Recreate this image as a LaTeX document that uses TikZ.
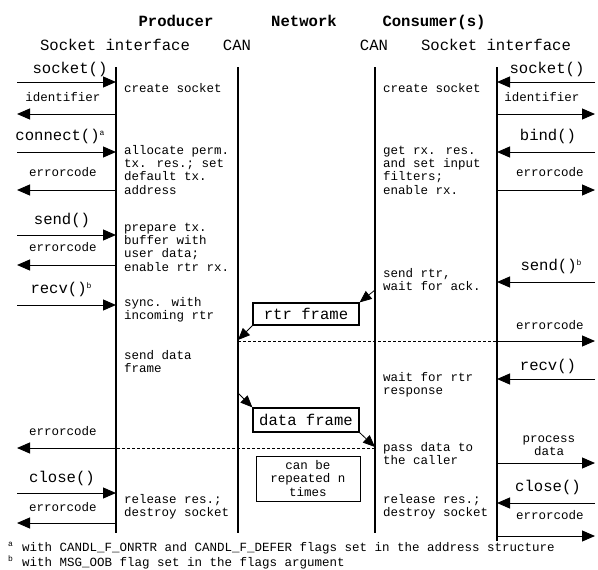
\documentclass[tikz,border=0pt]{standalone}
\usepackage{fontspec}
\setmainfont{Liberation Mono}
\usetikzlibrary{arrows.meta}
\tikzset{
  life/.style={line width=1.8pt},
  msg/.style={line width=1pt, -{Triangle[length=13pt,width=11pt]}},
  fr/.style={line width=0.8pt, -{Triangle[length=12pt,width=10pt]}},
  dsh/.style={line width=0.8pt, dashed, dash pattern=on 3pt off 2pt},
  big/.style={font=\fontsize{15.6}{18}\selectfont, inner sep=0pt},
  bigb/.style={font=\fontsize{15.6}{18}\selectfont\bfseries, inner sep=0pt},
  small/.style={font=\fontsize{12.5}{13.3}\selectfont, inner sep=0pt},
  txt/.style={small, anchor=base west, align=left},
  lbl/.style={small, anchor=base},
  blbl/.style={big, anchor=base},
  framebox/.style={draw, line width=1.2pt, inner sep=0pt}
}
\newcommand{\supa}[1]{\raisebox{5pt}{\fontsize{8}{8}\selectfont #1}}
\begin{document}
\begin{tikzpicture}[x=1pt,y=-1pt]
\useasboundingbox (0,0) rectangle (598,570);
% headers
\node[bigb, anchor=base] (hp) at (176,27) {Producer};
\node[bigb, anchor=base] (hn) at (304,27) {Network};
\node[bigb, anchor=base] (hc) at (434,27) {Consumer(s)};
\node[blbl] (hls) at (115,50) {Socket interface};
\node[blbl] (hlc) at (237,50) {CAN};
\node[blbl] (hrc) at (374,50) {CAN};
\node[blbl] (hrs) at (496,50) {Socket interface};
% lifelines
\coordinate (LS) at (116,67); \coordinate (LSe) at (116,533);
\coordinate (LC) at (238,67); \coordinate (LCe) at (238,533);
\coordinate (RC) at (375,67); \coordinate (RCe) at (375,533);
\coordinate (RS) at (497,67); \coordinate (RSe) at (497,541);
\coordinate (L) at (17,0); \coordinate (R) at (595,0);
\draw[life] (LS) -- (LSe);
\draw[life] (LC) -- (LCe);
\draw[life] (RC) -- (RCe);
\draw[life] (RS) -- (RSe);
% left messages
\node[blbl] (l1) at (70,73) {socket()};
\draw[msg] (L |- 0,82) -- (LS |- 0,82);
\node[lbl] (l2) at (63,101) {identifier};
\draw[msg] (LS |- 0,114) -- (L |- 0,114);
\node[blbl] (l3) at (60,140.5) {connect()\supa{a}};
\draw[msg] (L |- 0,152) -- (LS |- 0,152);
\node[lbl] (l4) at (63,176) {errorcode};
\draw[msg] (LS |- 0,190) -- (L |- 0,190);
\node[blbl] (l5) at (62,224.5) {send()};
\draw[msg] (L |- 0,235) -- (LS |- 0,235);
\node[lbl] (l6) at (63,251) {errorcode};
\draw[msg] (LS |- 0,265) -- (L |- 0,265);
\node[blbl] (l7) at (61,293.5) {recv()\supa{b}};
\draw[msg] (L |- 0,305) -- (LS |- 0,305);
\node[lbl] (l8) at (63,435) {errorcode};
\draw[dsh] (RC |- 0,448) -- (LS |- 0,448);
\draw[msg] (LS |- 0,448) -- (L |- 0,448);
\node[blbl] (l9) at (62,482.5) {close()};
\draw[msg] (L |- 0,493) -- (LS |- 0,493);
\node[lbl] (l10) at (63,511) {errorcode};
\draw[msg] (LS |- 0,523) -- (L |- 0,523);
% right messages
\node[blbl] (r1) at (547,73) {socket()};
\draw[msg] (R |- 0,82) -- (RS |- 0,82);
\node[lbl] (r2) at (542,101) {identifier};
\draw[msg] (RS |- 0,114) -- (R |- 0,114);
\node[blbl] (r3) at (548,140.5) {bind()};
\draw[msg] (R |- 0,152) -- (RS |- 0,152);
\node[lbl] (r4) at (550,176) {errorcode};
\draw[msg] (RS |- 0,190) -- (R |- 0,190);
\node[blbl] (r5) at (551,270.5) {send()\supa{b}};
\draw[msg] (R |- 0,282) -- (RS |- 0,282);
\node[lbl] (r6) at (550,329) {errorcode};
\draw[dsh] (LC |- 0,341) -- (RS |- 0,341);
\draw[msg] (RS |- 0,341) -- (R |- 0,341);
\node[blbl] (r7) at (548,370.5) {recv()};
\draw[msg] (R |- 0,379) -- (RS |- 0,379);
\node[lbl, align=center] (r8) at (549,455.3) {process\\data};
\draw[msg] (RS |- 0,463) -- (R |- 0,463);
\node[blbl] (r9) at (548,491.5) {close()};
\draw[msg] (R |- 0,503) -- (RS |- 0,503);
\node[lbl] (r10) at (550,519) {errorcode};
\draw[msg] (RS |- 0,536) -- (R |- 0,536);
% producer activity texts (anchored at the baseline of the last line)
\node[txt] (p1) at (124,92) {create socket};
\node[txt] (p2) at (124,194) {allocate perm.\\tx. res.; set\\default tx.\\address};
\node[txt] (p3) at (124,271) {prepare tx.\\buffer with\\user data;\\enable rtr rx.};
\node[txt] (p4) at (124,319.3) {sync. with\\incoming rtr};
\node[txt] (p5) at (124,372.3) {send data\\frame};
\node[txt] (p6) at (124,516.3) {release res.;\\destroy socket};
% consumer activity texts
\node[txt] (c1) at (383,92) {create socket};
\node[txt] (c2) at (383,194) {get rx. res.\\and set input\\filters;\\enable rx.};
\node[txt] (c3) at (383,290.3) {send rtr,\\wait for ack.};
\node[txt] (c4) at (383,394.3) {wait for rtr\\response};
\node[txt] (c5) at (383,464.3) {pass data to\\the caller};
\node[txt] (c6) at (383,516.3) {release res.;\\destroy socket};
% frames
\node[framebox, big, minimum width=106pt, minimum height=22pt] (rtr) at (306,314) {rtr frame};
\node[framebox, big, minimum width=106pt, minimum height=24pt] (dat) at (306,420) {data frame};
\node[draw, line width=0.8pt, small, align=center, minimum width=104pt, minimum height=45pt] (rep) at (308,478.5) {can be\\repeated n\\times};
\coordinate (rtrin) at (375,290);
\coordinate (rtrout) at (238,340);
\coordinate (datin) at (238,393);
\coordinate (datout) at (375,447);
\draw[fr] (rtrin) -- (rtr.north east);
\draw[fr] (rtr.south west) -- (rtrout);
\draw[fr] (datin) -- (dat.north west);
\draw[fr] (dat.south east) -- (datout);
% footnotes
\node[small, anchor=base west] (fa) at (22,551) {with CANDL\_F\_ONRTR and CANDL\_F\_DEFER flags set in the address structure};
\node[anchor=base west, inner sep=0pt, font=\fontsize{8}{8}\selectfont] (fas) at (8,546) {a};
\node[small, anchor=base west] (fb) at (22,566) {with MSG\_OOB flag set in the flags argument};
\node[anchor=base west, inner sep=0pt, font=\fontsize{8}{8}\selectfont] (fbs) at (8,561) {b};
\end{tikzpicture}
\end{document}
